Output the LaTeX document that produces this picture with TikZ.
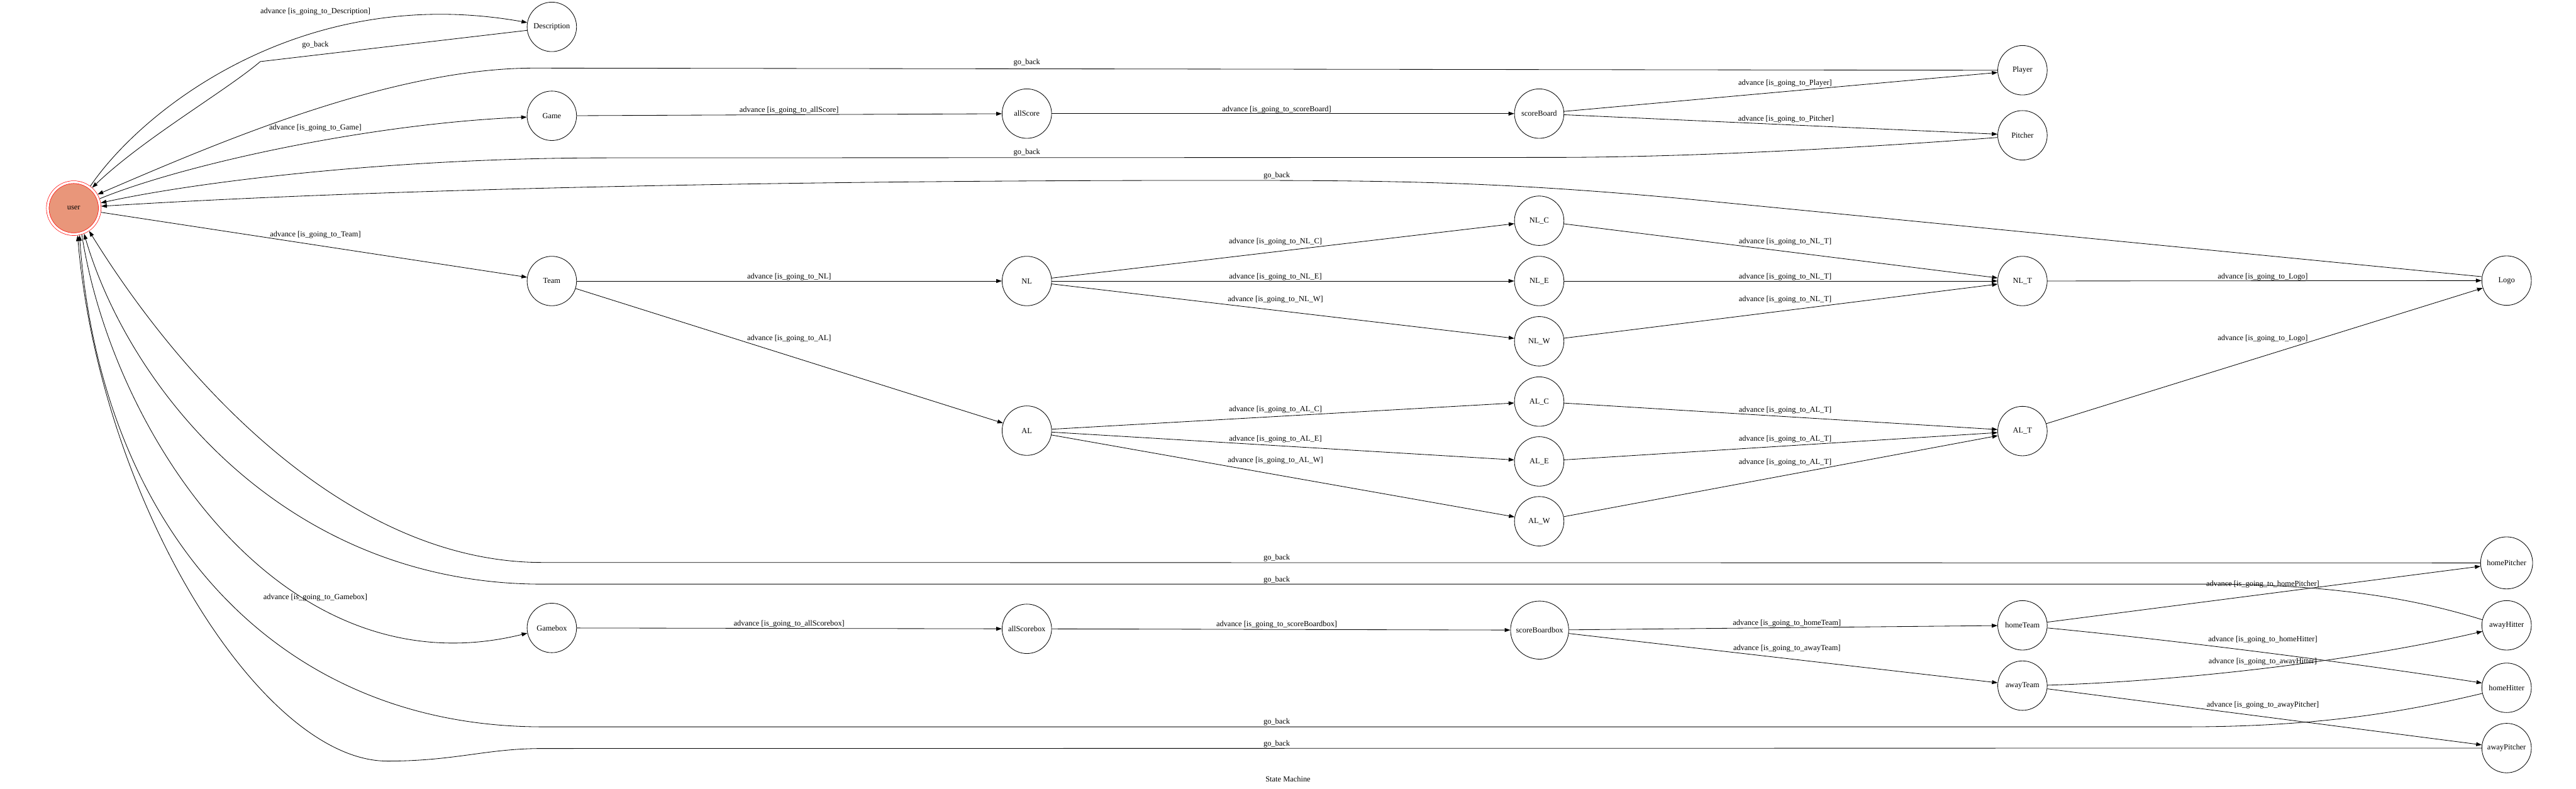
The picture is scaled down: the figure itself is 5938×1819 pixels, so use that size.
\documentclass[tikz,border=0pt]{standalone}
\usepackage{fontspec}
\setmainfont{Liberation Serif}
\usetikzlibrary{arrows.meta}
\definecolor{usersalmon}{RGB}{233,150,122}

\begin{document}
\begin{tikzpicture}[x=1pt, y=-1pt,
  every node/.style={font=\fontsize{18}{21}\selectfont},
  state/.style={draw, circle, line width=1.2pt, minimum size=114pt, inner sep=0pt},
  edge/.style={line width=1.2pt, -{Triangle[length=13pt,width=9pt]}},
  lbl/.style={inner sep=1pt}]
\useasboundingbox (0,0) rectangle (5938,1819);

% states
\node[state, fill=usersalmon, draw=red, double=white, double distance=5pt, line width=1pt, minimum size=120pt, outer sep=3.5pt] (user) at (170,480) {user};
\node[state] (Description) at (1272,62) {Description};
\node[state] (Game) at (1272,267) {Game};
\node[state] (Team) at (1272,648) {Team};
\node[state] (Gamebox) at (1272,1448) {Gamebox};
\node[state] (allScore) at (2367,262) {allScore};
\node[state] (NL) at (2367,648) {NL};
\node[state] (AL) at (2367,993) {AL};
\node[state] (allScorebox) at (2367,1450) {allScorebox};
\node[state] (scoreBoard) at (3548,262) {scoreBoard};
\node[state] (NLc) at (3548,509) {NL\_C};
\node[state] (NLe) at (3548,648) {NL\_E};
\node[state] (NLw) at (3548,787) {NL\_W};
\node[state] (ALc) at (3548,926) {AL\_C};
\node[state] (ALe) at (3548,1064) {AL\_E};
\node[state] (ALw) at (3548,1202) {AL\_W};
\node[state, minimum size=134pt] (scoreBoardbox) at (3549,1453) {scoreBoardbox};
\node[state] (Player) at (4662,162) {Player};
\node[state] (Pitcher) at (4662,312) {Pitcher};
\node[state] (NLt) at (4662,648) {NL\_T};
\node[state] (ALt) at (4662,994) {AL\_T};
\node[state] (homeTeam) at (4662,1442) {homeTeam};
\node[state] (awayTeam) at (4662,1581) {awayTeam};
\node[state] (Logo) at (5778,647) {Logo};
\node[state, minimum size=120pt] (homePitcher) at (5778,1298) {homePitcher};
\node[state] (awayHitter) at (5778,1442) {awayHitter};
\node[state] (homeHitter) at (5778,1586) {homeHitter};
\node[state] (awayPitcher) at (5778,1725) {awayPitcher};

% upper fan of user
\draw[edge] (user.53) .. controls (330,250) and (700,-40) .. (Description.170);
\draw[edge] (Description.188) -- (600,142) .. controls (520,210) and (330,320) .. (user.48);
\draw[edge] (Player.180) -- (1232,157) .. controls (900,157) and (500,330) .. (user.30);
\draw[edge] (user.20) .. controls (420,380) and (850,285) .. (Game.183);
\draw[edge] (Pitcher.185) .. controls (4300,340) and (3900,363) .. (3576,363) -- (1400,364) .. controls (900,364) and (450,420) .. (user.11);
\draw[edge] (Logo.171) -- (3900,460) .. controls (3450,418) and (3200,416) .. (2800,416) .. controls (1700,416) and (800,440) .. (user.4);
\draw[edge] (user) -- (Team);

% lower fan of user
\draw[edge] (homePitcher) -- (1250,1297) .. controls (800,1297) and (420,880) .. (user.-56);
\draw[edge] (awayHitter.167) .. controls (5550,1375) and (5350,1347) .. (5087,1347) -- (1250,1347) .. controls (660,1347) and (300,900) .. (user.-68);
\draw[edge] (user.-73) .. controls (260,1000) and (650,1600) .. (Gamebox.192);
\draw[edge] (homeHitter.193) .. controls (5550,1640) and (5350,1676) .. (5037,1676) -- (1250,1676) .. controls (620,1676) and (230,1200) .. (user.-78);
\draw[edge] (awayPitcher) -- (1250,1726) .. controls (1120,1726) and (1050,1755) .. (893,1755) .. controls (600,1755) and (230,1150) .. (user.-82);

% score and team branches
\draw[edge] (Game) -- (allScore);
\draw[edge] (allScore) -- (scoreBoard);
\draw[edge] (scoreBoard) -- (Player);
\draw[edge] (scoreBoard) -- (Pitcher);
\draw[edge] (Team) -- (NL);
\draw[edge] (Team) -- (AL);
\foreach \lg in {NL,AL} {
  \foreach \dv in {c,e,w} {
    \draw[edge] (\lg) -- (\lg\dv);
    \draw[edge] (\lg\dv) -- (\lg t);
  }
  \draw[edge] (\lg t) -- (Logo);
}

% box score branch
\draw[edge] (Gamebox) -- (allScorebox);
\draw[edge] (allScorebox) -- (scoreBoardbox);
\draw[edge] (scoreBoardbox) -- (homeTeam);
\draw[edge] (scoreBoardbox) -- (awayTeam);
\draw[edge] (homeTeam) -- (homePitcher);
\draw[edge] (homeTeam.-6) .. controls (5000,1475) and (5400,1525) .. (homeHitter.169);
\draw[edge] (awayTeam.1) .. controls (5050,1570) and (5450,1520) .. (awayHitter.194);
\draw[edge] (awayTeam) -- (awayPitcher);

% edge labels
\foreach \px/\py/\txt [count=\i] in {
  727/27/{advance [is\_going\_to\_Description]},
  727/104/{go\_back},
  2367/145/{go\_back},
  727/295/{advance [is\_going\_to\_Game]},
  2367/352/{go\_back},
  2943/405/{go\_back},
  727/541/{advance [is\_going\_to\_Team]},
  1819/255/{advance [is\_going\_to\_allScore]},
  2943/253/{advance [is\_going\_to\_scoreBoard]},
  4115/192/{advance [is\_going\_to\_Player]},
  4117/275/{advance [is\_going\_to\_Pitcher]},
  1819/638/{advance [is\_going\_to\_NL]},
  1819/781/{advance [is\_going\_to\_AL]},
  2940/557/{advance [is\_going\_to\_NL\_C]},
  2940/638/{advance [is\_going\_to\_NL\_E]},
  2940/691/{advance [is\_going\_to\_NL\_W]},
  4115/557/{advance [is\_going\_to\_NL\_T]},
  4115/638/{advance [is\_going\_to\_NL\_T]},
  4115/691/{advance [is\_going\_to\_NL\_T]},
  5216/638/{advance [is\_going\_to\_Logo]},
  5216/781/{advance [is\_going\_to\_Logo]},
  2940/944/{advance [is\_going\_to\_AL\_C]},
  2940/1012/{advance [is\_going\_to\_AL\_E]},
  2940/1062/{advance [is\_going\_to\_AL\_W]},
  4115/946/{advance [is\_going\_to\_AL\_T]},
  4115/1012/{advance [is\_going\_to\_AL\_T]},
  4115/1066/{advance [is\_going\_to\_AL\_T]},
  2943/1286/{go\_back},
  2943/1337/{go\_back},
  2943/1665/{go\_back},
  2943/1716/{go\_back},
  727/1378/{advance [is\_going\_to\_Gamebox]},
  1819/1439/{advance [is\_going\_to\_allScorebox]},
  2943/1440/{advance [is\_going\_to\_scoreBoardbox]},
  4119/1438/{advance [is\_going\_to\_homeTeam]},
  4119/1496/{advance [is\_going\_to\_awayTeam]},
  5216/1347/{advance [is\_going\_to\_homePitcher]},
  5216/1475/{advance [is\_going\_to\_homeHitter]},
  5216/1526/{advance [is\_going\_to\_awayHitter]},
  5216/1626/{advance [is\_going\_to\_awayPitcher]}}
  \node[lbl] (lbl\i) at (\px,\py) {\txt};

\node (title) at (2969,1797) {State Machine};
\end{tikzpicture}
\end{document}
